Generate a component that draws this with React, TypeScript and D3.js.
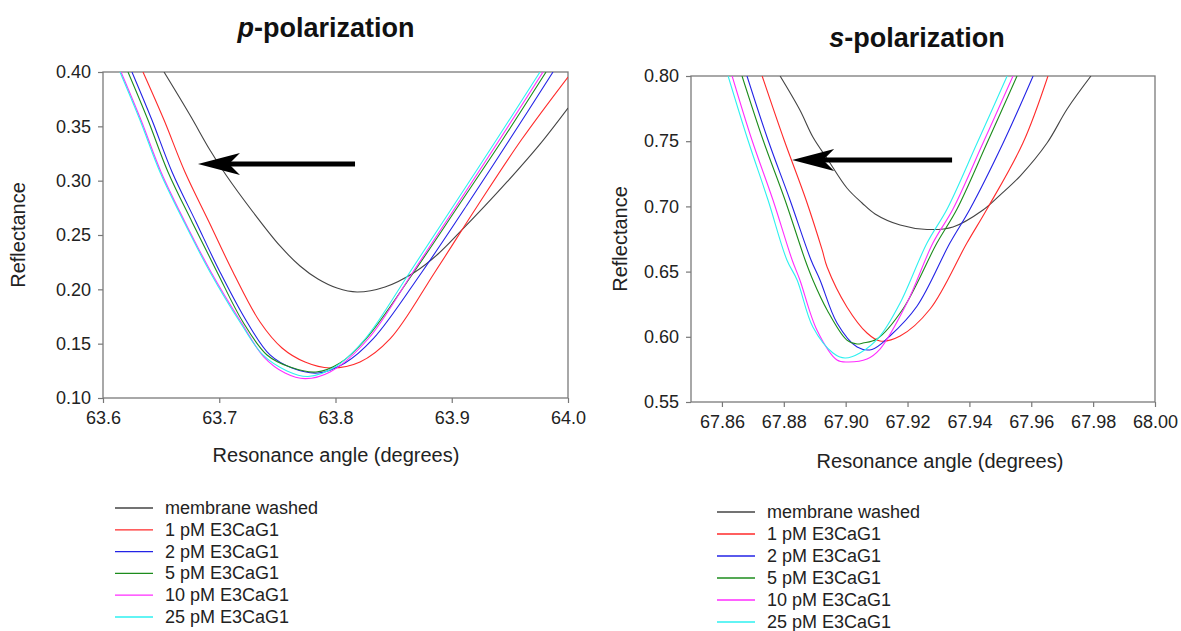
import * as d3 from 'd3'
import { useEffect, useRef } from 'react'

// series labels + colours (same for both panels)
const seriesNames = ['membrane washed', '1 pM E3CaG1', '2 pM E3CaG1', '5 pM E3CaG1', '10 pM E3CaG1', '25 pM E3CaG1']
const seriesColors = ['#444444', '#ff2a2a', '#2323e6', '#1c8c1c', '#ff2cff', '#2ef0f0']

// p-polarization: [angle, reflectance]
const pWashed = [[63.6525, 0.4], [63.6748, 0.3604], [63.692, 0.3282], [63.7058, 0.3052], [63.729, 0.2712], [63.7523, 0.2399], [63.7695, 0.2215], [63.7849, 0.2095], [63.8013, 0.2012], [63.8185, 0.1976], [63.8426, 0.2022], [63.8684, 0.216], [63.8882, 0.2325], [63.9071, 0.2528], [63.9277, 0.2758], [63.9475, 0.2988], [63.9759, 0.3337], [64.0, 0.3669]]
const p1pM = [[63.6344, 0.4], [63.6525, 0.3558], [63.6705, 0.308], [63.6912, 0.262], [63.7118, 0.216], [63.7351, 0.1699], [63.754, 0.146], [63.7738, 0.1331], [63.7953, 0.1276], [63.8211, 0.1331], [63.8469, 0.1543], [63.8856, 0.216], [63.9226, 0.2776], [63.9604, 0.3383], [64.0, 0.3954]]
const p2pM = [[63.6249, 0.4], [63.6421, 0.3558], [63.6594, 0.308], [63.68, 0.262], [63.7006, 0.216], [63.7239, 0.1699], [63.7437, 0.1396], [63.7626, 0.1276], [63.7849, 0.123], [63.8082, 0.1322], [63.8323, 0.1543], [63.8744, 0.216], [63.9131, 0.2776], [63.9501, 0.3383], [63.9871, 0.4]]
const p5pM = [[63.6215, 0.4], [63.6387, 0.3558], [63.6559, 0.308], [63.6766, 0.262], [63.6981, 0.216], [63.7204, 0.1699], [63.7411, 0.1396], [63.7609, 0.1285], [63.7832, 0.1239], [63.8039, 0.1322], [63.8262, 0.1543], [63.8675, 0.216], [63.9062, 0.2776], [63.9441, 0.3383], [63.9811, 0.4]]
const p10pM = [[63.6155, 0.4], [63.6327, 0.3558], [63.6499, 0.308], [63.6705, 0.262], [63.6929, 0.216], [63.7187, 0.1699], [63.7385, 0.1377], [63.7566, 0.123], [63.7738, 0.1178], [63.7953, 0.1239], [63.828, 0.1543], [63.8667, 0.216], [63.9045, 0.2776], [63.9415, 0.3383], [63.9785, 0.4]]
const p25pM = [[63.6146, 0.4], [63.6318, 0.3558], [63.649, 0.308], [63.6697, 0.262], [63.692, 0.216], [63.7178, 0.1699], [63.7376, 0.1396], [63.7583, 0.1249], [63.7763, 0.1198], [63.7996, 0.1285], [63.8254, 0.1543], [63.8641, 0.216], [63.9019, 0.2776], [63.9389, 0.3383], [63.9759, 0.4]]

// s-polarization
const sWashed = [[67.8788, 0.8], [67.8852, 0.7739], [67.8894, 0.7532], [67.8943, 0.7356], [67.9004, 0.7141], [67.9053, 0.7026], [67.9095, 0.6942], [67.9176, 0.6857], [67.9263, 0.6823], [67.9347, 0.6842], [67.9444, 0.6972], [67.9499, 0.7087], [67.9564, 0.7233], [67.9651, 0.7486], [67.9716, 0.7747], [67.9793, 0.8]]
const s1pM = [[67.873, 0.8], [67.8801, 0.7509], [67.8872, 0.7049], [67.8924, 0.6666], [67.894, 0.6535], [67.9004, 0.6229], [67.9069, 0.6029], [67.9111, 0.5968], [67.9176, 0.6006], [67.9273, 0.6213], [67.9392, 0.6719], [67.9457, 0.698], [67.9573, 0.7486], [67.9654, 0.8]]
const s2pM = [[67.8681, 0.8], [67.8749, 0.7509], [67.882, 0.7049], [67.8888, 0.6589], [67.8917, 0.6436], [67.8972, 0.6106], [67.9037, 0.5922], [67.9085, 0.5903], [67.9143, 0.6006], [67.9231, 0.6236], [67.9337, 0.6719], [67.9402, 0.698], [67.9509, 0.7486], [67.9606, 0.8]]
const s5pM = [[67.8665, 0.8], [67.8733, 0.7509], [67.8804, 0.7049], [67.8869, 0.6589], [67.8894, 0.6436], [67.894, 0.6206], [67.9004, 0.5975], [67.9037, 0.5945], [67.9056, 0.5952], [67.9101, 0.5983], [67.9185, 0.6213], [67.9295, 0.6719], [67.936, 0.698], [67.9457, 0.7486], [67.9554, 0.8]]
const s10pM = [[67.8633, 0.8], [67.8697, 0.7509], [67.8765, 0.7049], [67.8827, 0.6589], [67.8852, 0.6436], [67.8907, 0.6052], [67.8972, 0.5822], [67.9008, 0.5807], [67.9069, 0.583], [67.9111, 0.5906], [67.9198, 0.6259], [67.9282, 0.6719], [67.9347, 0.698], [67.9444, 0.7486], [67.9541, 0.8]]
const s25pM = [[67.862, 0.8], [67.8684, 0.7509], [67.8749, 0.7049], [67.881, 0.6589], [67.8843, 0.6436], [67.8894, 0.6075], [67.8959, 0.5876], [67.8998, 0.5837], [67.9046, 0.5876], [67.9111, 0.6006], [67.9176, 0.6259], [67.9263, 0.6719], [67.9328, 0.698], [67.9425, 0.7486], [67.9522, 0.8]]

const pXTicks = [63.6, 63.7, 63.8, 63.9, 64.0]
const pYTicks = [0.10, 0.15, 0.20, 0.25, 0.30, 0.35, 0.40]
const sXTicks = [67.86, 67.88, 67.90, 67.92, 67.94, 67.96, 67.98, 68.00]
const sYTicks = [0.55, 0.60, 0.65, 0.70, 0.75, 0.80]

// arrow annotations: [tail, tip] in data units
const pArrow = [[63.8168, 0.3153], [63.6817, 0.3153]]
const sArrow = [[67.9344, 0.7356], [67.8827, 0.7356]]

const FONT = 'Liberation Sans, Arial, sans-serif'
const width = 1181
const height = 631

const drawPanel = (svg, o) => {
  const x = d3.scaleLinear(o.xDomain, [o.left, o.right])
  const y = d3.scaleLinear(o.yDomain, [o.bottom, o.top])
  const g = svg.append('g')

  g.append('clipPath').attr('id', o.id)
    .append('rect')
    .attr('x', o.left).attr('y', o.top)
    .attr('width', o.right - o.left).attr('height', o.bottom - o.top)

  // axes
  g.append('g')
    .attr('transform', `translate(0,${o.bottom})`)
    .call(d3.axisBottom(x).tickValues(o.xTicks).tickFormat(d3.format(o.xFmt)).tickSize(5).tickSizeOuter(0).tickPadding(8))
    .call(a => a.select('.domain').remove())
    .call(a => a.selectAll('.tick line').attr('stroke', '#777').attr('stroke-width', 1.2))
    .call(a => a.selectAll('.tick text').attr('font-size', 18).attr('font-family', FONT).attr('fill', '#222'))
  g.append('g')
    .attr('transform', `translate(${o.left},0)`)
    .call(d3.axisLeft(y).tickValues(o.yTicks).tickFormat(d3.format('.2f')).tickSize(5).tickSizeOuter(0).tickPadding(7))
    .call(a => a.select('.domain').remove())
    .call(a => a.selectAll('.tick line').attr('stroke', '#777').attr('stroke-width', 1.2))
    .call(a => a.selectAll('.tick text').attr('font-size', 18).attr('font-family', FONT).attr('fill', '#222'))

  g.append('rect')
    .attr('x', o.left).attr('y', o.top)
    .attr('width', o.right - o.left).attr('height', o.bottom - o.top)
    .attr('fill', 'none').attr('stroke', '#7a7a7a').attr('stroke-width', 1.3)

  const line = d3.line().x(d => x(d[0])).y(d => y(d[1])).curve(d3.curveCatmullRom.alpha(0.5))
  const lines = g.append('g').attr('clip-path', `url(#${o.id})`)
  o.series.forEach((s, i) => {
    lines.append('path')
      .attr('d', line(s))
      .attr('fill', 'none')
      .attr('stroke', seriesColors[i])
      .attr('stroke-width', 1.1)
  })

  // arrow
  const [tail, tip] = o.arrow
  const tx = x(tip[0]), ty = y(tip[1])
  g.append('line')
    .attr('x1', x(tail[0])).attr('y1', y(tail[1]))
    .attr('x2', tx + 28).attr('y2', ty)
    .attr('stroke', '#000').attr('stroke-width', 5)
  g.append('path')
    .attr('d', `M${tx},${ty} L${tx + 42},${ty - 11} L${tx + 31},${ty} L${tx + 42},${ty + 11} Z`)
    .attr('fill', '#000')

  // titles
  const title = g.append('text')
    .attr('x', o.titleX).attr('y', o.titleY)
    .attr('text-anchor', 'middle')
    .attr('font-family', FONT).attr('font-size', 27).attr('font-weight', 'bold').attr('fill', '#111')
  title.append('tspan').attr('font-style', 'italic').text(o.titleLetter)
  title.append('tspan').text('-polarization')

  g.append('text')
    .attr('x', o.xTitleX).attr('y', o.xTitleY)
    .attr('text-anchor', 'middle')
    .attr('font-family', FONT).attr('font-size', 20).attr('fill', '#222')
    .text('Resonance angle (degrees)')
  g.append('text')
    .attr('transform', `translate(${o.yTitleX},${o.yTitleY}) rotate(-90)`)
    .attr('text-anchor', 'middle')
    .attr('font-family', FONT).attr('font-size', 20).attr('fill', '#222')
    .text('Reflectance')

  // legend
  const lg = g.append('g')
  seriesNames.forEach((name, i) => {
    const cy = o.legendY + i * o.legendStep
    lg.append('line')
      .attr('x1', o.legendX).attr('x2', o.legendX + 38)
      .attr('y1', cy).attr('y2', cy)
      .attr('stroke', seriesColors[i]).attr('stroke-width', 1.3)
    lg.append('text')
      .attr('x', o.legendX + 50).attr('y', cy + 6)
      .attr('font-family', FONT).attr('font-size', 18).attr('fill', '#222')
      .text(name)
  })
}

const App = () => {
  const svgRef = useRef(null)
  useEffect(() => {
    const svg = d3.select(svgRef.current)
    svg.selectAll('*').remove()
    drawPanel(svg, {
      id: 'clip-p', left: 103, right: 568, top: 72, bottom: 398,
      xDomain: [63.6, 64.0], yDomain: [0.10, 0.40], xTicks: pXTicks, yTicks: pYTicks, xFmt: '.1f',
      series: [pWashed, p1pM, p2pM, p5pM, p10pM, p25pM], arrow: pArrow,
      titleLetter: 'p', titleX: 326, titleY: 37,
      xTitleX: 336, xTitleY: 462, yTitleX: 25, yTitleY: 235,
      legendX: 115, legendY: 508, legendStep: 21.8,
    })
    drawPanel(svg, {
      id: 'clip-s', left: 691, right: 1155, top: 76, bottom: 402,
      xDomain: [67.85, 68.0], yDomain: [0.55, 0.80], xTicks: sXTicks, yTicks: sYTicks, xFmt: '.2f',
      series: [sWashed, s1pM, s2pM, s5pM, s10pM, s25pM], arrow: sArrow,
      titleLetter: 's', titleX: 917, titleY: 47,
      xTitleX: 940, xTitleY: 468, yTitleX: 627, yTitleY: 239,
      legendX: 717, legendY: 512, legendStep: 22,
    })
  }, [])
  return (
    <svg ref={svgRef} width={width} height={height}
      style={{ position: 'absolute', left: 0, top: 0, background: '#fff' }} />
  )
}

export default App
